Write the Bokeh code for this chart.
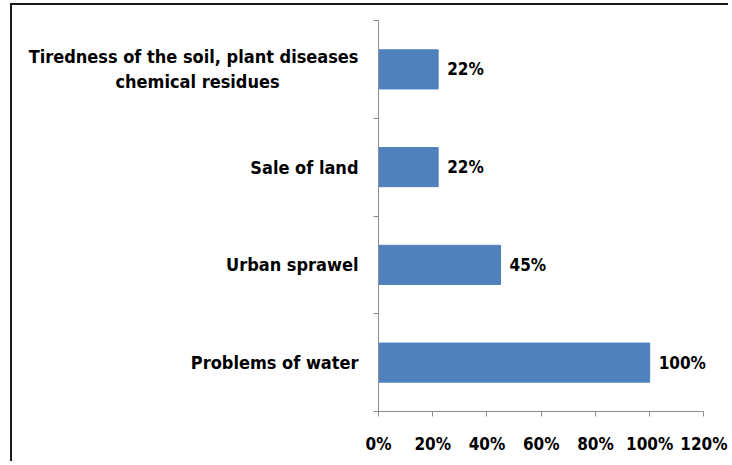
from bokeh.plotting import figure
from bokeh.models import (Range1d, FixedTicker, NumeralTickFormatter, ColumnDataSource, LabelSet)
from bokeh.core.properties import value
from bokeh.embed import file_html
from bokeh.resources import INLINE

# Data (bottom to top)
categories = ["Problems of water", "Urban sprawel", "Sale of land",
              "Tiredness of the soil, plant diseases\nchemical residues" + "\u00a0" * 14]
values = [1.00, 0.45, 0.22, 0.22]
value_labels = ["100%", "45%", "22%", "22%"]
x_ticks = [0, 0.2, 0.4, 0.6, 0.8, 1.0, 1.2]

FONT = "DejaVu Sans Condensed"
AXIS_COLOR = "#8c8c8c"

ypos = [i + 0.5 for i in range(len(categories))]
bounds = [i for i in range(len(categories) + 1)]

p = figure(width=718, height=458, output_backend="svg", toolbar_location=None,
           x_range=Range1d(0, 1.25), y_range=Range1d(0, len(categories)),
           min_border_left=366, min_border_right=13, min_border_top=15, min_border_bottom=52)
p.styles = {"margin-left": "10px", "margin-top": "3px",
            "border-top": "2px solid #1a1a1a", "border-left": "2px solid #1a1a1a"}
p.outline_line_color = None
p.xgrid.grid_line_color = None
p.ygrid.grid_line_color = None
p.background_fill_color = "white"
p.border_fill_color = "white"

src = ColumnDataSource(dict(y=ypos, v=values, lab=value_labels))
p.hbar(y="y", right="v", left=0, height=0.4, source=src,
       fill_color="#4F81BD", line_color="#4F81BD")

labels = LabelSet(x="v", y="y", text="lab", source=src, x_offset=9,
                  text_baseline="middle", text_font=value(FONT), text_font_style="bold",
                  text_font_size="17px", text_color="#000000")
p.add_layout(labels)

# x axis
xa = p.xaxis[0]
xa.bounds = (0, 1.2)
xa.ticker = FixedTicker(ticks=x_ticks)
xa.formatter = NumeralTickFormatter(format="0%")
xa.axis_line_color = AXIS_COLOR
xa.major_tick_line_color = AXIS_COLOR
xa.major_tick_in = 0
xa.major_tick_out = 5
xa.minor_tick_line_color = None
xa.major_label_text_font = FONT
xa.major_label_text_font_style = "bold"
xa.major_label_text_font_size = "17px"
xa.major_label_text_color = "#000000"
xa.major_label_standoff = 17

# y axis
ya = p.yaxis[0]
ya.ticker = FixedTicker(ticks=ypos, minor_ticks=bounds)
ya.major_label_overrides = {y: c for y, c in zip(ypos, categories)}
ya.axis_line_color = AXIS_COLOR
ya.major_tick_line_color = None
ya.major_tick_in = 0
ya.major_tick_out = 0
ya.minor_tick_line_color = AXIS_COLOR
ya.minor_tick_in = 0
ya.minor_tick_out = 5
ya.major_label_text_font = FONT
ya.major_label_text_font_style = "bold"
ya.major_label_text_font_size = "18px"
ya.major_label_text_color = "#000000"
ya.major_label_standoff = 15

open("out.html", "w").write(file_html(p, INLINE))
